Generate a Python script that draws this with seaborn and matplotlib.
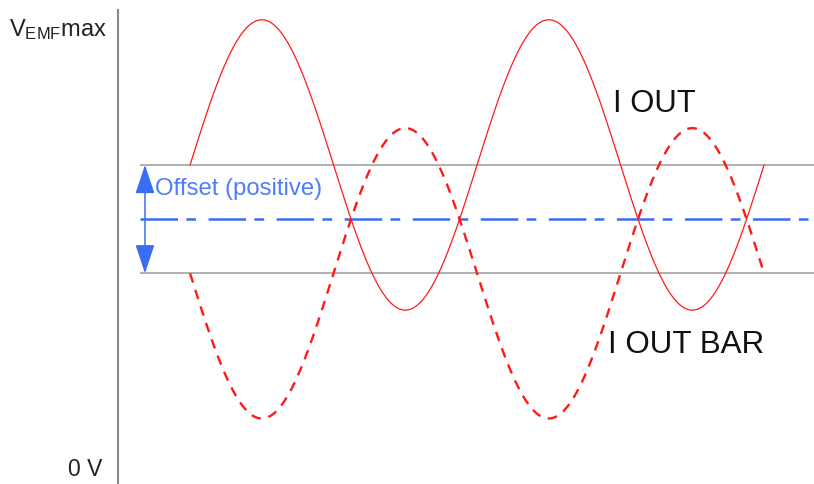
import numpy as np
import pandas as pd
import seaborn as sns
import matplotlib.pyplot as plt

# waveform: levels as fraction of V_EMF max, phase in cycles
mid_level = 0.556
offset = 0.122
amplitude = 0.327
n_cycles = 2
curve_names = ["I OUT", "I OUT BAR"]
offset_label = "Offset (positive)"
top_label = r"$\mathrm{V_{EMF}max}$"
bottom_label = "0 V"

RED = "#ff1a1a"
BLUE = "#3a6df5"
TEXT_BLUE = "#4d7ef7"
GRAY = "#9a9a9a"

sns.set_style("white")
plt.rcParams["font.family"] = ["Liberation Sans", "DejaVu Sans"]
plt.rcParams["mathtext.fontset"] = "custom"
plt.rcParams["mathtext.rm"] = "Liberation Sans"
plt.rcParams["lines.scale_dashes"] = False

phase = np.linspace(0, n_cycles, 800)
wave = offset + amplitude * np.sin(2 * np.pi * phase)
df = pd.DataFrame({
    "phase": np.concatenate([phase, phase]),
    "level": np.concatenate([mid_level + wave, mid_level - wave]),
    "signal": np.repeat(curve_names, len(phase)),
})

fig = plt.figure(figsize=(8.14, 4.84), dpi=100)
ax = fig.add_axes([118 / 814, 0, 1 - 118 / 814, 1])
x_lo, x_hi = -0.251, 2.174
y_lo, y_hi = -0.0405, 1.0495
ax.set_xlim(x_lo, x_hi)
ax.set_ylim(y_lo, y_hi)

# offset band and centre line
guide_start = -0.175
for lvl in (mid_level + offset, mid_level - offset):
    ax.hlines(lvl, guide_start, x_hi, color=GRAY, lw=1.1)
centre = ax.hlines(mid_level, guide_start, x_hi, color=BLUE, lw=1.8)
centre.set_linestyle((0, (27, 6, 7, 9)))

# the two outputs
sns.lineplot(data=df[df.signal == curve_names[0]], x="phase", y="level",
             color=RED, lw=0.9, ax=ax, legend=False)
sns.lineplot(data=df[df.signal == curve_names[1]], x="phase", y="level",
             color=RED, lw=1.7, ax=ax, legend=False)
ax.lines[-1].set_dashes((7, 5.5))

# offset arrow
arrow_x = -0.157
ax.annotate("", xy=(arrow_x, mid_level + offset), xytext=(arrow_x, mid_level - offset),
            arrowprops=dict(arrowstyle="<|-|>,head_length=0.9,head_width=0.3",
                            mutation_scale=20, color=BLUE, lw=1.1,
                            shrinkA=0, shrinkB=0))
ax.text(-0.122, 0.624, offset_label, color=TEXT_BLUE, fontsize=17.2,
        ha="left", va="center")

ax.text(1.474, 0.815, curve_names[0], fontsize=22.3, ha="left", va="center",
        color="#111111")
ax.text(1.456, 0.2725, curve_names[1], fontsize=22.6, ha="left", va="center",
        color="#111111")

# axis labels on the left of the spine
ax.text(-0.289, 0.968, top_label, fontsize=17, ha="right", va="baseline",
        color="#222222", clip_on=False)
ax.text(-0.307, -0.0225, bottom_label, fontsize=16.5, ha="right", va="baseline",
        color="#222222", clip_on=False)

for side in ("top", "right", "bottom"):
    ax.spines[side].set_visible(False)
ax.spines["left"].set_color("#8a8a8a")
ax.spines["left"].set_linewidth(1.5)
ax.spines["left"].set_bounds(y_lo, 1.027)
ax.set_xticks([])
ax.set_yticks([])
ax.set_xlabel("")
ax.set_ylabel("")
ax.patch.set_alpha(0)

fig.savefig("out.png", dpi=100, facecolor="white")
